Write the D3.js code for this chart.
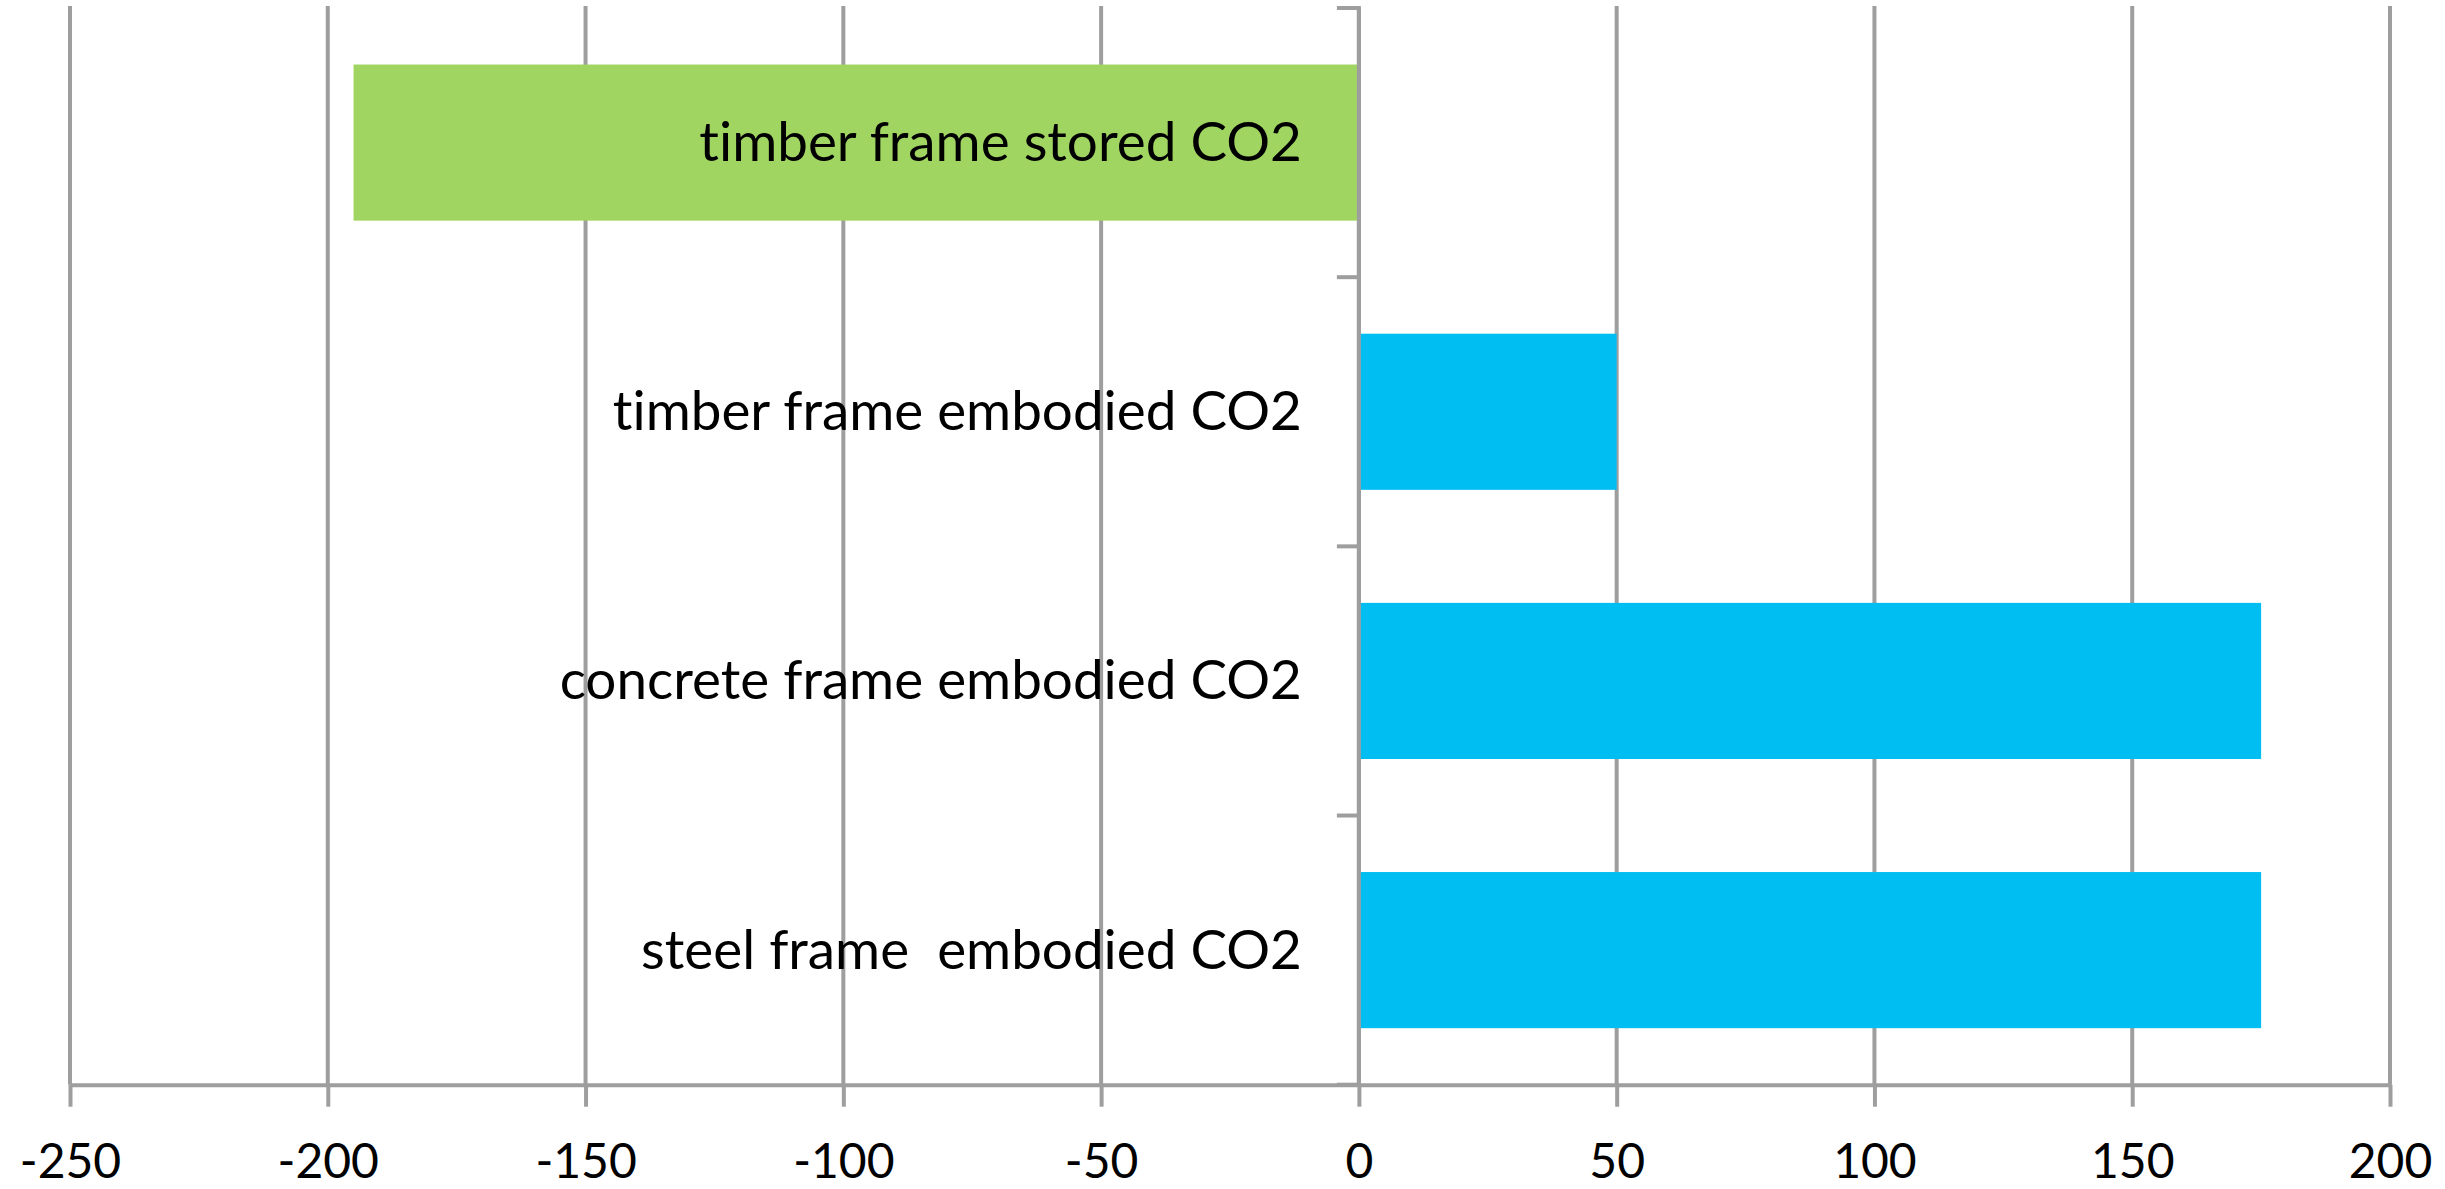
<!DOCTYPE html>
<html>
<head>
<meta charset="utf-8">
<script src="https://cdn.jsdelivr.net/npm/d3@7"></script>
<style>
  html, body { margin: 0; padding: 0; background: #ffffff; }
  svg { display: block; }
  text { font-family: Lato, "Open Sans", sans-serif; fill: #000000; font-variant-ligatures: none; }
</style>
</head>
<body>
<svg id="chart" width="2445" height="1189"></svg>
<script>
// Categories, top to bottom
const categories = [
  "timber frame stored CO2",
  "timber frame embodied CO2",
  "concrete frame embodied CO2",
  "steel frame  embodied CO2"
];
// CO2 values per category
const values = [-195, 50, 175, 175];
// Which bars are storage (green) vs embodied (blue)
const kinds = ["stored", "embodied", "embodied", "embodied"];
// X-axis tick labels
const xTicks = [-250, -200, -150, -100, -50, 0, 50, 100, 150, 200];

const colors = { stored: "#A1D562", embodied: "#00BEF2" };
const gridColor = "#9E9E9E";

const svg = d3.select("#chart");
const plot = { left: 70, right: 2390, top: 8, bottom: 1084.7 };

const x = d3.scaleLinear()
  .domain([d3.min(xTicks), d3.max(xTicks)])
  .range([plot.left, plot.right]);

const y = d3.scaleBand()
  .domain(categories)
  .range([plot.top, plot.bottom])
  .paddingInner(0.42)
  .paddingOuter(0.21);

// vertical gridlines
svg.append("g")
  .selectAll("line")
  .data(xTicks)
  .join("line")
  .attr("x1", d => x(d)).attr("x2", d => x(d))
  .attr("y1", plot.top - 2).attr("y2", plot.bottom)
  .attr("stroke", gridColor)
  .attr("stroke-width", 4);

// bars
svg.append("g")
  .selectAll("rect")
  .data(categories)
  .join("rect")
  .attr("x", (d, i) => x(Math.min(0, values[i])))
  .attr("width", (d, i) => Math.abs(x(values[i]) - x(0)))
  .attr("y", d => y(d))
  .attr("height", y.bandwidth())
  .attr("fill", (d, i) => colors[kinds[i]]);

// x axis (plain hyphen for negative numbers)
const xAxis = svg.append("g")
  .attr("transform", `translate(0,${plot.bottom})`)
  .call(d3.axisBottom(x).tickValues(xTicks).tickSize(22).tickSizeOuter(0).tickFormat(d => String(d)));
xAxis.select(".domain").attr("stroke", gridColor).attr("stroke-width", 4);
xAxis.selectAll(".tick line").attr("stroke", gridColor).attr("stroke-width", 4);
xAxis.selectAll(".tick text")
  .attr("y", 93.3)
  .attr("dy", null)
  .style("font-size", "48px")
  .style("font-family", "Lato, 'Open Sans', sans-serif")
  .attr("fill", "#000");

// y axis at zero with ticks on category boundaries
const yAxis = svg.append("g").attr("transform", `translate(${x(0)},0)`);
yAxis.append("line")
  .attr("x1", 0).attr("x2", 0)
  .attr("y1", plot.top).attr("y2", plot.bottom)
  .attr("stroke", gridColor).attr("stroke-width", 4);
const bounds = d3.range(categories.length + 1).map(i => plot.top + i * y.step());
yAxis.selectAll("line.tick")
  .data(bounds)
  .join("line")
  .attr("class", "tick")
  .attr("x1", -22).attr("x2", 0)
  .attr("y1", d => d).attr("y2", d => d)
  .attr("stroke", gridColor).attr("stroke-width", 4);

// category labels
yAxis.selectAll("text")
  .data(categories)
  .join("text")
  .attr("x", -57)
  .attr("y", d => y(d) + y.bandwidth() / 2 + 18.4)
  .attr("text-anchor", "end")
  .style("white-space", "pre")
  .attr("xml:space", "preserve")
  .style("font-size", "54.8px")
  .text(d => d);
</script>
</body>
</html>
